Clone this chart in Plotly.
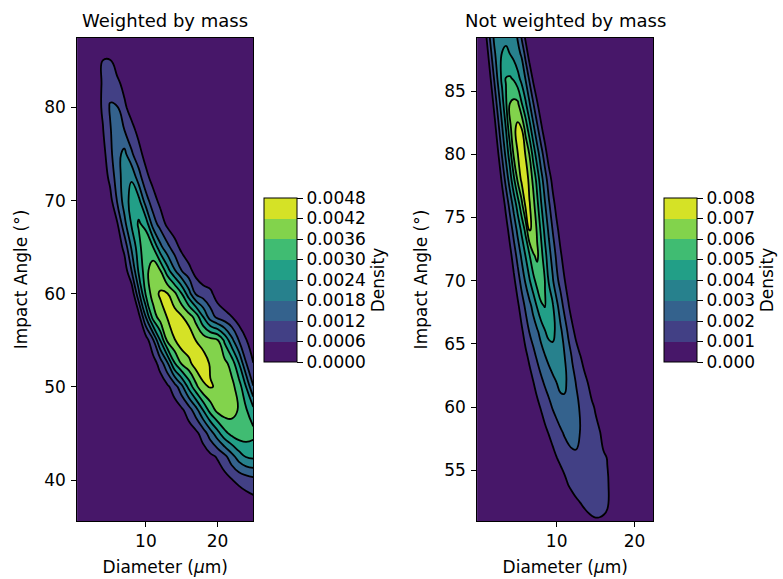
import numpy as np
import plotly.graph_objects as go

# ------------------------------------------------------------------
# Data (kernel-density surfaces)
# ------------------------------------------------------------------
# Left panel: "Weighted by mass" -- density in units of 0.0006 (contour step)
LEFT_DIAMETER = list(range(0, 26))                       # µm
LEFT_ANGLE = [35.0, 37.5, 40.0, 42.5, 45.0, 47.5, 50.0, 52.5, 55.0, 57.5, 60.0,
              62.5, 65.0, 67.5, 70.0, 72.5, 75.0, 77.5, 80.0, 82.5, 85.0, 87.5]  # deg
LEFT_UNIT = 0.0006
LEFT_DENSITY = [
    [0]*26,
    [0]*22 + [0.1, 0.25, 0.45, 0.6],
    [0]*18 + [0.05, 0.15, 0.35, 0.6, 0.95, 1.25, 1.5, 1.7],
    [0]*16 + [0.05, 0.2, 0.45, 0.75, 1.1, 1.7, 2.6, 3.5, 4.05, 4.2],
    [0]*14 + [0.05, 0.2, 0.45, 0.75, 1.45, 2.5, 3.6, 4.7, 5.3, 5.6, 5.55, 5.3],
    [0]*12 + [0.05, 0.2, 0.45, 0.8, 1.5, 2.6, 4.02, 5.4, 6.3, 6.6, 6.4, 5.9, 5.1, 4.3],
    [0]*11 + [0.1, 0.35, 0.8, 1.5, 2.7, 4.3, 5.7, 6.85, 7.06, 6.9, 6.6, 6.3, 5.5, 3.98, 2.05],
    [0]*10 + [0.1, 0.5, 1.4, 2.8, 4.9, 6.1, 6.7, 7.5, 7.5, 6.9, 6.5, 6.3, 5.6, 4.02, 2.05, 1.02],
    [0]*9 + [0.05, 0.5, 1.85, 4.02, 6.2, 6.95, 7.6, 7.8, 6.98, 6.6, 6.35, 6.1, 4.8, 3.3, 1.95, 1.05, 0.5],
    [0]*8 + [0.1, 0.6, 3.02, 5.4, 6.5, 7.05, 7.5, 7.1, 6.5, 5.6, 4.02, 2.5, 1.75, 1.35, 1.02, 0.45, 0.15, 0],
    [0]*7 + [0.05, 0.25, 2.75, 5.17, 6.5, 7.15, 7.05, 6.25, 5.02, 3.4, 1.85, 1.45, 1.25, 0.5, 0.15, 0, 0, 0, 0],
    [0]*6 + [0.05, 0.4, 2.02, 4.2, 5.6, 6.7, 6.02, 4.4, 3.1, 1.98, 1.3, 0.6, 0.2] + [0]*7,
    [0]*6 + [0.3, 1.3, 3.15, 4.6, 5.95, 5.02, 3.3, 2.3, 1.45, 0.7, 0.25] + [0]*9,
    [0]*5 + [0.1, 0.9, 2.7, 4.1, 5.15, 4.6, 2.5, 1.6, 0.75, 0.3] + [0]*11,
    [0]*4 + [0.1, 0.6, 2.1, 3.45, 4.4, 4.3, 2.4, 1.45, 0.7, 0.25] + [0]*12,
    [0]*4 + [0.3, 1.3, 2.5, 3.5, 3.9, 2.4, 1.3, 0.6, 0.2] + [0]*13,
    [0]*3 + [0.1, 0.6, 1.75, 2.65, 3.3, 2.15, 1.35, 0.6, 0.25] + [0]*14,
    [0]*3 + [0.3, 0.95, 1.9, 2.7, 2.02, 1.35, 0.7, 0.3, 0.1] + [0]*14,
    [0]*2 + [0.1, 0.5, 1.15, 2.1, 2.05, 1.2, 0.55, 0.2] + [0]*16,
    [0]*2 + [0.1, 0.6, 1.1, 1.6, 1.25, 0.7, 0.3] + [0]*17,
    [0]*3 + [0.3, 1.02, 1.05, 0.5, 0.1] + [0]*18,
    [0]*4 + [0.35, 0.3] + [0]*20,
]

# Right panel: "Not weighted by mass" -- density in units of 0.001 (contour step)
RIGHT_ANGLE = [50, 52, 54, 56, 58, 60, 62, 64, 66, 68, 70,
               72, 74, 76, 78, 80, 82, 84, 86, 88, 90]            # deg
RIGHT_UNIT = 0.001
RIGHT_ROW_START = [12.5, 10.5, 9.5, 8.0, 7.0, 6.0, 5.5, 4.5, 4.0, 4.0, 3.5,
                   3.0, 2.5, 2.5, 2.0, 1.5, 1.5, 1.0, 0.5, 0.5, 0.0]  # µm, first listed value
RIGHT_ROW_VALUES = [  # values every 0.5 µm from RIGHT_ROW_START, zero elsewhere
    [0.15, 0.3, 0.45, 0.58, 0.68, 0.74, 0.76, 0.72, 0.6, 0.38, 0.12, 0.02],
    [0.05, 0.15, 0.3, 0.5, 0.7, 0.85, 0.99, 1.08, 1.13, 1.15, 1.13, 1.1, 1.02, 0.6, 0.2, 0.04],
    [0.05, 0.2, 0.45, 0.75, 1.06, 1.26, 1.4, 1.48, 1.52, 1.5, 1.45, 1.37, 1.27, 1.15, 1.05, 0.88, 0.4, 0.1],
    [0.05, 0.18, 0.42, 0.72, 0.98, 1.25, 1.48, 1.67, 1.8, 1.88, 1.88, 1.8, 1.67, 1.52, 1.37, 1.22, 1.1, 0.98, 0.5, 0.15, 0.03],
    [0.05, 0.18, 0.45, 0.79, 1.06, 1.33, 1.6, 1.87, 2.1, 2.28, 2.35, 2.25, 1.99, 1.81, 1.62, 1.43, 1.25, 1.06, 0.75, 0.35, 0.1, 0.02],
    [0.04, 0.15, 0.4, 0.75, 1.08, 1.41, 1.74, 2.07, 2.35, 2.6, 2.77, 2.78, 2.6, 2.3, 1.9, 1.66, 1.41, 1.16, 0.9, 0.55, 0.22, 0.05],
    [0.05, 0.2, 0.55, 0.98, 1.39, 1.8, 2.15, 2.43, 2.72, 3.02, 3.3, 3.2, 2.79, 2.36, 1.94, 1.62, 1.3, 0.98, 0.6, 0.25, 0.06],
    [0.01, 0.08, 0.3, 0.74, 1.22, 1.7, 2.14, 2.54, 2.94, 3.3, 3.65, 3.8, 3.6, 3.05, 2.47, 1.9, 1.49, 1.07, 0.68, 0.25, 0.05],
    [0.01, 0.07, 0.3, 0.81, 1.44, 2.04, 2.45, 2.87, 3.39, 3.95, 4.35, 4.25, 3.76, 3.21, 2.52, 1.81, 1.25, 0.68, 0.25, 0.05],
    [0.05, 0.25, 0.79, 1.5, 2.16, 2.69, 3.33, 4.1, 4.85, 5.05, 4.6, 4.11, 3.29, 2.44, 1.72, 1.1, 0.48, 0.15, 0.03],
    [0.03, 0.2, 0.77, 1.55, 2.33, 3.11, 3.88, 4.66, 5.4, 5.7, 4.98, 3.89, 3.11, 2.25, 1.66, 1.07, 0.49, 0.15, 0.03],
    [0.02, 0.15, 0.64, 1.49, 2.33, 3.17, 4.02, 4.89, 5.9, 6.2, 5.38, 4.33, 3.39, 2.56, 1.79, 1.15, 0.53, 0.15, 0.02],
    [0.01, 0.1, 0.51, 1.42, 2.33, 3.25, 4.19, 5.23, 7.02, 6.95, 5.82, 4.81, 3.71, 2.81, 1.96, 1.26, 0.58, 0.15, 0.02],
    [0.05, 0.32, 1.32, 2.33, 3.34, 4.43, 5.66, 7.16, 7.12, 6.31, 5.27, 4.1, 3.09, 2.15, 1.38, 0.62, 0.15, 0.02],
    [0.02, 0.12, 1.22, 2.34, 3.47, 4.79, 6.15, 7.2, 7.88, 6.64, 5.76, 4.62, 3.4, 2.44, 1.53, 0.65, 0.15, 0.02],
    [0.03, 0.2, 0.93, 2.1, 3.26, 4.5, 6.16, 6.97, 7.55, 6.95, 5.98, 4.63, 3.47, 2.44, 1.49, 0.45, 0.1],
    [0.1, 0.53, 1.70, 2.88, 4.02, 5.67, 6.75, 7.3, 7.05, 5.67, 4.5, 3.32, 2.25, 1.28, 0.35, 0.06],
    [0.03, 0.15, 1.30, 2.48, 3.58, 4.86, 6.03, 6.25, 6.2, 5.09, 4.18, 3.13, 2.06, 1.1, 0.2, 0.03],
    [0.03, 0.2, 0.93, 2.09, 3.24, 4.25, 5.05, 5.1, 4.89, 4.33, 3.71, 2.96, 1.85, 0.79, 0.2, 0.03],
    [0.12, 0.53, 1.70, 2.86, 3.47, 4.02, 4.12, 3.98, 3.64, 3.29, 2.85, 1.64, 0.5, 0.12],
    [0.05, 0.3, 1.3, 2.47, 3.35, 3.6, 3.7, 3.7, 3.6, 3.4, 2.7, 1.38, 0.35, 0.1],
]
RIGHT_DIAMETER_MIN, RIGHT_DIAMETER_MAX, RIGHT_DIAMETER_STEP = -0.5, 23.0, 0.5

# Ticks / labels
LEFT_CBAR_TICKS = [0.0, 0.0006, 0.0012, 0.0018, 0.0024, 0.0030, 0.0036, 0.0042, 0.0048]
RIGHT_CBAR_TICKS = [0.0, 0.001, 0.002, 0.003, 0.004, 0.005, 0.006, 0.007, 0.008]
LEFT_X_TICKS, LEFT_Y_TICKS = [10, 20], [40, 50, 60, 70, 80]
RIGHT_X_TICKS, RIGHT_Y_TICKS = [10, 20], [55, 60, 65, 70, 75, 80, 85]
TITLES = ["Weighted by mass", "Not weighted by mass"]

# ------------------------------------------------------------------
# Build grids
# ------------------------------------------------------------------
left_z = np.array(LEFT_DENSITY, dtype=float) * LEFT_UNIT

right_x = np.arange(RIGHT_DIAMETER_MIN, RIGHT_DIAMETER_MAX + 1e-9, RIGHT_DIAMETER_STEP)
right_z = np.zeros((len(RIGHT_ANGLE), len(right_x)))
for r, (x0, vals) in enumerate(zip(RIGHT_ROW_START, RIGHT_ROW_VALUES)):
    i0 = int(round((x0 - RIGHT_DIAMETER_MIN) / RIGHT_DIAMETER_STEP))
    right_z[r, i0:i0 + len(vals)] = vals
right_z *= RIGHT_UNIT

# matplotlib viridis sampled at band mid-points (8 filled bands)
BAND_COLORS = ['#471769', '#424085', '#34628d', '#27818d',
               '#229f87', '#40bc72', '#82d34c', '#d5e226']
band_scale = [[i / (len(BAND_COLORS) - 1), c] for i, c in enumerate(BAND_COLORS)]

FONT = "DejaVu Sans"
W, H = 783, 579
TICK_FONT = dict(family=FONT, size=17, color="black")
TITLE_FONT = dict(family=FONT, size=18, color="black")
SMOOTH = 1.3


def cbar(xpix, ticks, fmt):
    return dict(
        x=xpix / W, xanchor="left", xpad=0,
        y=1 - 280 / H, yanchor="middle", ypad=0,
        len=164, lenmode="pixels", thickness=33, thicknessmode="pixels",
        outlinewidth=1, outlinecolor="black",
        ticks="outside", ticklen=6, tickwidth=1, tickcolor="black",
        tickvals=ticks, tickformat=fmt, tickfont=TICK_FONT,
        title=dict(text="Density", side="right", font=TICK_FONT),
    )


fig = go.Figure()

panels = [
    (LEFT_DIAMETER, LEFT_ANGLE, left_z, LEFT_UNIT, "x", "y", 264, LEFT_CBAR_TICKS, ".4f"),
    (right_x, RIGHT_ANGLE, right_z, RIGHT_UNIT, "x2", "y2", 664, RIGHT_CBAR_TICKS, ".3f"),
]
for xs, ys, zz, step, xa, ya, cbx, cticks, fmt in panels:
    fig.add_trace(go.Contour(
        x=xs, y=ys, z=zz, xaxis=xa, yaxis=ya,
        colorscale=band_scale, zmin=cticks[0], zmax=cticks[-1],
        autocontour=False,
        contours=dict(start=step, end=7 * step, size=step, coloring="fill", showlines=False),
        line=dict(width=0, smoothing=SMOOTH),
        colorbar=cbar(cbx, cticks, fmt),
        hoverinfo="skip",
    ))
    fig.add_trace(go.Contour(
        x=xs, y=ys, z=zz, xaxis=xa, yaxis=ya,
        autocontour=False,
        contours=dict(start=step, end=7 * step, size=step, coloring="none", showlines=True),
        line=dict(color="black", width=1.8, smoothing=SMOOTH),
        showscale=False, hoverinfo="skip",
    ))

axis_common = dict(
    showline=True, mirror=True, linecolor="black", linewidth=1,
    ticks="outside", ticklen=5, tickwidth=1, tickcolor="black",
    showgrid=False, zeroline=False, tickfont=TICK_FONT,
    title_font=TICK_FONT, automargin=False,
)
y_dom = [1 - 521 / H, 1 - 38 / H]
fig.update_layout(
    width=W, height=H, margin=dict(l=0, r=0, t=0, b=0, autoexpand=False),
    paper_bgcolor="white", plot_bgcolor=BAND_COLORS[0],
    showlegend=False, font=dict(family=FONT, color="black"),
    xaxis=dict(domain=[77.3 / W, 253.3 / W], range=[0.42, 25.0], tickvals=LEFT_X_TICKS,
               ticklabelstandoff=0,
               title=dict(text="Diameter (<i>μ</i>m)", standoff=10), anchor="y", **axis_common),
    yaxis=dict(domain=y_dom, range=[35.6, 87.45], tickvals=LEFT_Y_TICKS,
               ticklabelstandoff=2,
               title=dict(text="Impact Angle (°)", standoff=12), anchor="x", **axis_common),
    xaxis2=dict(domain=[477.3 / W, 653.3 / W], range=[-0.18, 22.4], tickvals=RIGHT_X_TICKS,
                ticklabelstandoff=0,
                title=dict(text="Diameter (<i>μ</i>m)", standoff=10), anchor="y2", **axis_common),
    yaxis2=dict(domain=y_dom, range=[51.0, 89.2], tickvals=RIGHT_Y_TICKS,
                ticklabelstandoff=2,
                title=dict(text="Impact Angle (°)", standoff=12), anchor="x2", **axis_common),
    annotations=[
        dict(text=TITLES[0], x=165.3 / W, y=1 - 20 / H, xref="paper", yref="paper",
             showarrow=False, xanchor="center", yanchor="middle", font=TITLE_FONT),
        dict(text=TITLES[1], x=565.3 / W, y=1 - 20 / H, xref="paper", yref="paper",
             showarrow=False, xanchor="center", yanchor="middle", font=TITLE_FONT),
    ],
)

fig.write_html(
    "out.html",
    config={"displayModeBar": False},
    post_script="document.body.style.margin='0px';document.body.style.overflow='hidden';",
)
